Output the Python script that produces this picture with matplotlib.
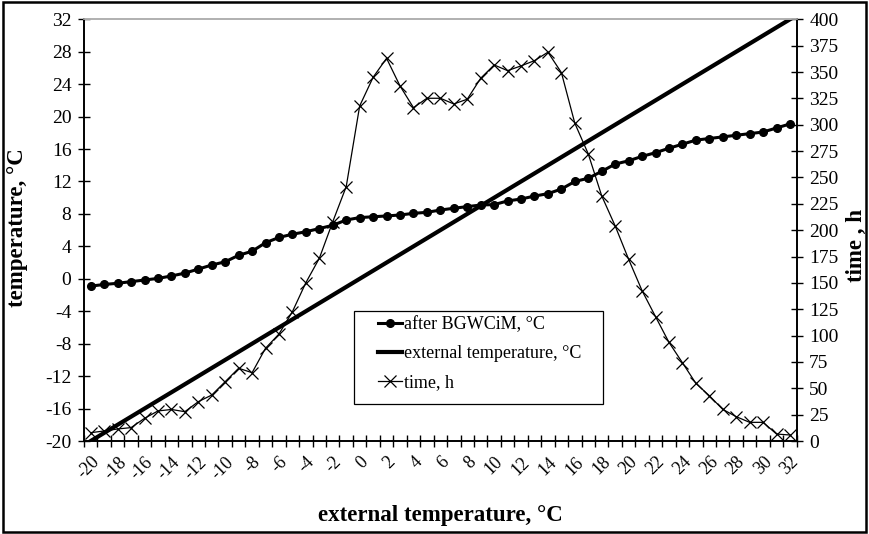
import matplotlib
matplotlib.use("Agg")
import matplotlib.pyplot as plt
import numpy as np
from matplotlib.patches import Rectangle

plt.rcParams['font.family'] = ['Liberation Serif', 'DejaVu Serif']

categories = list(range(-20, 33))

after_bgwcim = [-0.9, -0.7, -0.55, -0.35, -0.15, 0.05, 0.35, 0.7, 1.2, 1.7,
                2.1, 2.9, 3.4, 4.45, 5.1, 5.5, 5.8, 6.2, 6.6, 7.25,
                7.55, 7.65, 7.75, 7.87, 8.07, 8.2, 8.48, 8.7, 8.9, 9.1,
                9.15, 9.6, 9.84, 10.2, 10.5, 11.07, 12.0, 12.4, 13.25, 14.15,
                14.55, 15.1, 15.55, 16.1, 16.6, 17.1, 17.3, 17.5, 17.7, 17.9,
                18.1, 18.6, 19.1]

external_temp = categories

time_h = [7.9, 9.5, 11.4, 12.7, 21.5, 28.5, 29.9, 27.8, 37.3, 43.6,
          56.3, 69, 64.8, 88, 101.5, 122.7, 150.2, 173.3, 208, 241.3,
          317.8, 345, 363, 336.8, 316.2, 325.1, 325.1, 319.7, 324.2, 344.1,
          356.7, 351.3, 355.8, 360.8, 368.8, 349.5, 301.4, 272.3, 232.5, 204,
          172.4, 142.6, 118, 93.6, 74.3, 54.7, 43, 30, 23.1, 17.7,
          17.7, 6.6, 5.7]

left_ticks = list(range(-20, 33, 4))
right_ticks = list(range(0, 401, 25))

W, H = 869, 534
fig = plt.figure(figsize=(W/100, H/100), dpi=100)
ax = fig.add_axes([84/W, 1-441/H, (796.7-84)/W, (441-19.3)/H])
ax2 = ax.twinx()

x = np.arange(len(categories))

l1, = ax.plot(x, after_bgwcim, color='black', lw=2.2, marker='o', ms=5.5,
              label='after BGWCiM, °C', zorder=3)
l2, = ax.plot(x, external_temp, color='black', lw=3.0,
              label='external temperature, °C', zorder=2)
l3, = ax2.plot(x, time_h, color='black', lw=0.9, marker='x', ms=8, mew=0.9,
               label='time, h', zorder=3)

ax.set_xlim(-0.5, len(categories) - 0.5)
ax.set_ylim(-20, 32)
ax2.set_ylim(0, 400)

ax.set_yticks(left_ticks)
ax.set_yticklabels([str(v) for v in left_ticks])
ax2.set_yticks(right_ticks)
ax2.set_yticklabels([str(v) for v in right_ticks])

lab_idx = [i for i, c in enumerate(categories) if c % 2 == 0]
ax.set_xticks(lab_idx)
ax.set_xticklabels([str(categories[i]) for i in lab_idx], rotation=45,
                   ha='right', va='top', rotation_mode='anchor')
ax.set_xticks(np.arange(-0.5, len(categories)), minor=True)
ax.tick_params(axis='x', which='major', length=0, pad=9, labelsize=13)
ax.tick_params(axis='x', which='minor', direction='inout', length=8, width=1)
ax.tick_params(axis='y', direction='inout', length=8, width=1, labelsize=14, pad=5)
ax2.tick_params(axis='y', direction='inout', length=8, width=1, labelsize=14, pad=5)

for a in (ax, ax2):
    a.spines['top'].set_color('#b0b0b0')
    a.spines['top'].set_linewidth(1.2)
    for s in ('left', 'right', 'bottom'):
        a.spines[s].set_color('black')
        a.spines[s].set_linewidth(1.2)

fig.text(18/W, 1-228/H, 'temperature, °C', fontsize=16.5, fontweight='bold',
         rotation=90, ha='center', va='center')
fig.text(856/W, 1-245/H, 'time , h', fontsize=16.5, fontweight='bold',
         rotation=90, ha='center', va='center')
fig.text(440/W, 1-515/H, 'external temperature, °C', fontsize=16.5, fontweight='bold',
         ha='center', va='center')

leg = ax2.legend(handles=[l1, l2, l3], loc='upper left',
                 bbox_to_anchor=(378/W, 1-316/H), bbox_transform=fig.transFigure,
                 fontsize=13, frameon=False,
                 handlelength=1.35, handletextpad=0.1, borderpad=0,
                 labelspacing=0.68, borderaxespad=0)

ax2.add_patch(Rectangle((354/W, 1-404/H), (602.7-354)/W, (404-310.7)/H,
                        transform=fig.transFigure, fill=False, edgecolor='black',
                        lw=0.9, zorder=10))

fig.patches.append(Rectangle((0.003, 0.003), 0.994, 0.994, transform=fig.transFigure,
                             fill=False, edgecolor='black', lw=1.8))

fig.savefig('out.png', dpi=100)
